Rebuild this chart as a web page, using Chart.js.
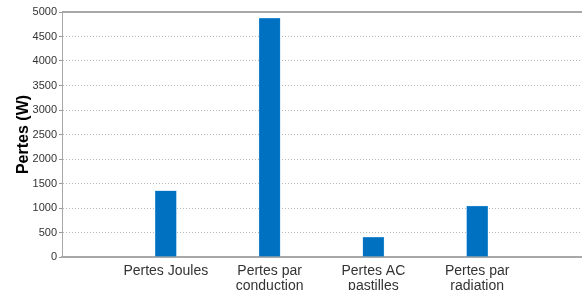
<!DOCTYPE html>
<html>
<head>
<meta charset="utf-8">
<script src="https://cdn.jsdelivr.net/npm/chart.js@4.4.0/dist/chart.umd.min.js"></script>
<style>
  html, body { margin: 0; padding: 0; background: #fff; }
  #wrap { width: 582px; height: 290px; position: relative; }
</style>
</head>
<body>
<div id="wrap"><canvas id="chart"></canvas></div>
<script>
const categories = [
  ['Pertes Joules'],
  ['Pertes par', 'conduction'],
  ['Pertes AC', 'pastilles'],
  ['Pertes par', 'radiation'],
];
const positions = [1, 2, 3, 4];
const losses = [1350, 4870, 400, 1040];
const yTicks = [0, 500, 1000, 1500, 2000, 2500, 3000, 3500, 4000, 4500, 5000];

const FONT = '"Liberation Sans", Arial, sans-serif';
const AXIS_GRAY = '#a8a8a8';

// top frame line, MATLAB-like box
const frame = {
  id: 'frame',
  afterDraw(chart) {
    const { ctx, chartArea } = chart;
    ctx.save();
    ctx.strokeStyle = AXIS_GRAY;
    ctx.lineWidth = 2;
    ctx.beginPath();
    ctx.moveTo(chartArea.left, chartArea.top);
    ctx.lineTo(chartArea.right + 2, chartArea.top);
    ctx.stroke();
    ctx.restore();
  },
};

const points = positions.map((x, i) => ({ x, y: losses[i] }));

new Chart(document.getElementById('chart'), {
  type: 'bar',
  data: {
    datasets: [
      {
        data: points,
        backgroundColor: '#0070c0',
        borderColor: '#5aa8e0',
        borderWidth: 0.5,
        barThickness: 21,
      },
    ],
  },
  options: {
    responsive: true,
    maintainAspectRatio: false,
    animation: false,
    layout: { padding: { top: 12, right: 1, left: 0, bottom: 0 } },
    plugins: { legend: { display: false }, tooltip: { enabled: false } },
    scales: {
      x: {
        type: 'linear',
        min: 0,
        max: 5,
        offset: false,
        afterBuildTicks: (scale) => {
          scale.ticks = positions.map((v) => ({ value: v }));
        },
        afterFit: (scale) => { scale.height = 33; },
        grid: { display: false, drawTicks: false, offset: false },
        border: { color: AXIS_GRAY, width: 2 },
        ticks: {
          color: '#333',
          padding: 7,
          maxRotation: 0,
          autoSkip: false,
          font: { family: FONT, size: 14, lineHeight: 1.05 },
          callback: (value) => categories[positions.indexOf(value)] ?? '',
        },
      },
      y: {
        min: 0,
        max: 5000,
        afterBuildTicks: (scale) => {
          scale.ticks = yTicks.map((v) => ({ value: v }));
        },
        afterFit: (scale) => { scale.width = 62; },
        grid: {
          color: '#b8b8b8',
          lineWidth: 1,
          drawTicks: true,
          tickLength: 3,
          tickColor: '#999',
          tickBorderDash: [],
        },
        border: { color: AXIS_GRAY, width: 1, dash: [1, 2] },
        ticks: {
          color: '#333',
          padding: 2,
          font: { family: FONT, size: 11 },
          callback: (value) => String(value),
        },
        title: {
          display: true,
          text: 'Pertes (W)',
          color: '#000',
          padding: { top: 14, bottom: 0 },
          font: { family: FONT, size: 16, weight: 'bold' },
        },
      },
    },
  },
  plugins: [frame],
});
</script>
</body>
</html>
